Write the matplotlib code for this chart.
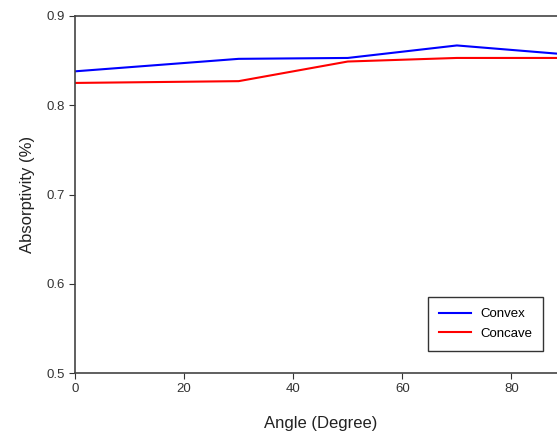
import matplotlib.pyplot as plt

angle = [0, 15, 30, 50, 70, 90]
convex = [0.838, 0.845, 0.852, 0.853, 0.867, 0.857]
concave = [0.825, 0.826, 0.827, 0.849, 0.853, 0.853]

plt.rcParams['font.family'] = ['Liberation Sans', 'DejaVu Sans']

fig = plt.figure(figsize=(5.57, 4.32), dpi=100)
ax = fig.add_axes([75 / 557, 1 - 373 / 432, (566 - 75) / 557, (373 - 16) / 432])

ax.plot(angle, convex, color='#0000ff', lw=1.5, label='Convex')
ax.plot(angle, concave, color='#ff0000', lw=1.5, label='Concave')

ax.set_xlim(0, 90)
ax.set_ylim(0.5, 0.9)
ax.set_xticks([0, 20, 40, 60, 80])
ax.set_yticks([0.5, 0.6, 0.7, 0.8, 0.9])
ax.tick_params(direction='out', length=4, labelsize=9.5, colors='#333333', labelcolor='#333333')
ax.spines['right'].set_visible(False)
for s in ['left', 'bottom', 'top']:
    ax.spines[s].set_color('#444444')
    ax.spines[s].set_linewidth(1.2)

ax.set_xlabel('Angle (Degree)', fontsize=12, color='#222222', labelpad=15)
ax.set_ylabel('Absorptivity (%)', fontsize=12, color='#222222', labelpad=8)

leg = ax.legend(loc='upper left', bbox_to_anchor=(428 / 557, 1 - 297 / 432),
                bbox_transform=fig.transFigure, fancybox=False, edgecolor='black',
                fontsize=9.5, handlelength=2.4, borderpad=0.85, borderaxespad=0,
                handletextpad=0.7, labelspacing=0.55)
leg.get_frame().set_linewidth(1.0)

fig.savefig('out.png', dpi=100)
